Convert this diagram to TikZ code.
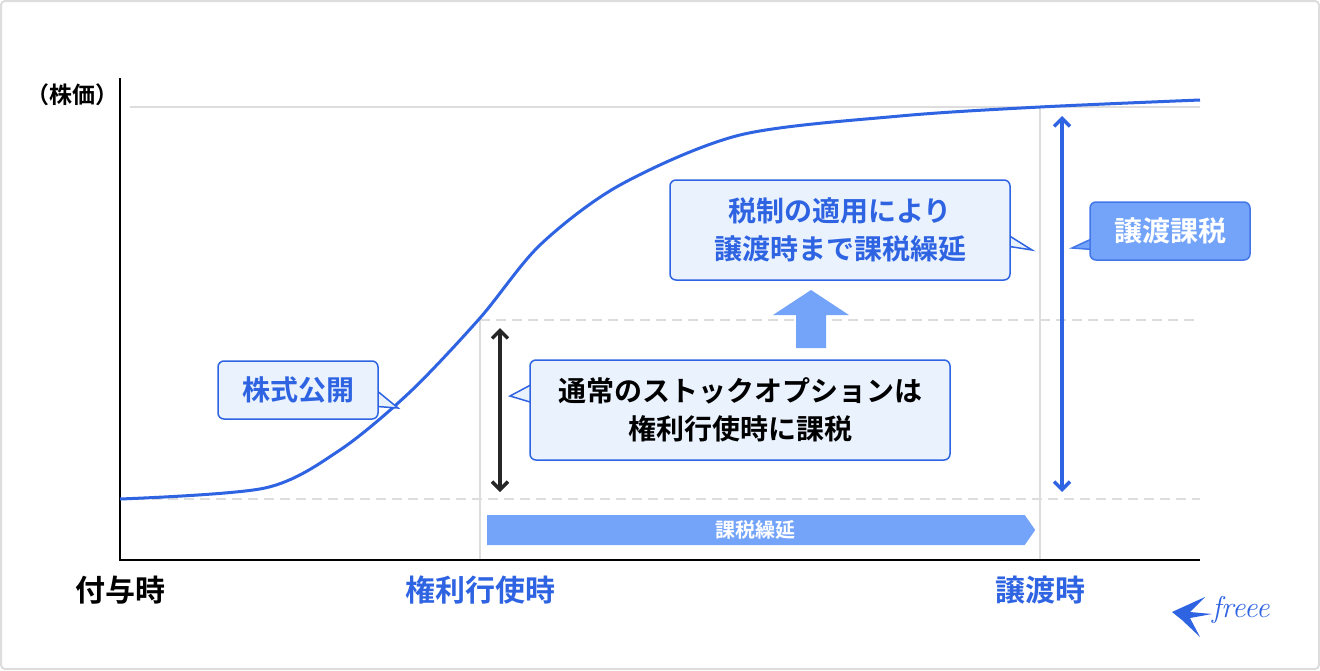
\documentclass[tikz,border=0pt]{standalone}
\usepackage{fontspec}
\setmainfont{Noto Sans CJK JP}[BoldFont={Noto Sans CJK JP Bold}]
\newfontfamily\logofont{Latin Modern Roman}
\usetikzlibrary{arrows.meta, positioning, shapes.arrows}
\definecolor{fblue}{HTML}{2E63E2}
\definecolor{lblue}{HTML}{EAF2FE}
\definecolor{mblue}{HTML}{74A4FA}
\definecolor{gline}{HTML}{DDDDDD}
\tikzset{
  callout/.style={draw=fblue, line width=1.5pt, fill=lblue, rounded corners=6pt, align=center,
    font=\bfseries\fontsize{28}{38}\selectfont, inner xsep=14pt},
  tail/.style={draw=fblue, line width=1.5pt, fill=lblue, line join=miter},
  tick/.style={font=\bfseries\fontsize{30}{32}\selectfont},
  guide/.style={gline, line width=1.2pt},
}
\begin{document}
\begin{tikzpicture}[x=1pt,y=-1pt]
  \draw[gline, line width=2pt, rounded corners=4pt] (1,1) rectangle (1319,669);
  % guides
  \draw[guide] (130,107) -- (1200,107);
  \draw[guide, dashed, dash pattern=on 10pt off 6pt] (480,320) -- (1200,320);
  \draw[guide, dashed, dash pattern=on 10pt off 6pt] (120,499) -- (1200,499);
  \draw[guide] (480,320) -- (480,560);
  \draw[guide] (1040,107) -- (1040,560);
  % axes
  \draw[line width=2.5pt] (120,78) -- (120,560) -- (1200,560);
  \node[font=\bfseries\fontsize{23}{25}\selectfont] (price) at (72,95) {（株価）};
  % curve
  \draw[fblue, line width=3pt] plot[smooth, tension=0.5] coordinates {
    (120,499) (265,488) (340,450) (410,392) (480,318) (540,245) (620,185)
    (740,135) (900,116) (1040,107) (1200,100)};
  % arrows
  \draw[{Straight Barb[length=8pt,width=16pt]}-{Straight Barb[length=8pt,width=16pt]}, line width=3.5pt, black!85] (500,328) -- (500,492);
  \draw[{Straight Barb[length=8pt,width=16pt]}-{Straight Barb[length=8pt,width=16pt]}, line width=3.5pt, fblue] (1062,116) -- (1062,492);
  % defer band
  \node[single arrow, fill=mblue, single arrow head extend=0pt, single arrow tip angle=110,
        minimum height=548pt, minimum width=30pt, inner sep=0pt, anchor=west,
        text=white, font=\bfseries\fontsize{20}{22}\selectfont] (defer) at (487,530) {課税繰延};
  % up arrow
  \fill[mblue] (796,348) -- (796,315) -- (773,315) -- (811,290) -- (849,315) -- (826,315) -- (826,348) -- cycle;
  % callouts
  \draw[tail] (218,395) -- (398,408) -- (370,385);
  \node[callout, minimum width=160pt, minimum height=58pt, text=fblue] (ipo) at (298,390) {株式公開};
  \draw[tail] (540,405) -- (510,396) -- (540,380);
  \node[callout, minimum width=420pt, minimum height=100pt, text=black] (normal) at (740,410)
    {通常のストックオプションは\\権利行使時に課税};
  \draw[tail] (1000,230) -- (1032,250) -- (1000,245);
  \node[callout, minimum width=340pt, minimum height=100pt, text=fblue] (relief) at (840,230)
    {税制の適用により\\譲渡時まで課税繰延};
  \draw[tail, draw=fblue!70!mblue, fill=mblue] (1100,235) -- (1072,248) -- (1100,250);
  \node[callout, draw=fblue!70!mblue, fill=mblue, text=white, minimum width=160pt, minimum height=58pt] (transfer) at (1170,231) {譲渡課税};
  % ticks
  \node[tick] (grant) at (120,590) {付与時};
  \node[tick, text=fblue] (exercise) at (480,590) {権利行使時};
  \node[tick, text=fblue] (sale) at (1040,590) {譲渡時};
  % logo
  \fill[fblue] (1172,612) -- (1205,597) -- (1190,612) -- (1212,614) -- (1190,618) -- (1200,637) -- (1182,620) -- cycle;
  \node[text=fblue, font=\logofont\itshape\fontsize{30}{32}\selectfont, anchor=west, inner sep=0pt] (logo) at (1212,610) {freee};
\end{tikzpicture}
\end{document}
